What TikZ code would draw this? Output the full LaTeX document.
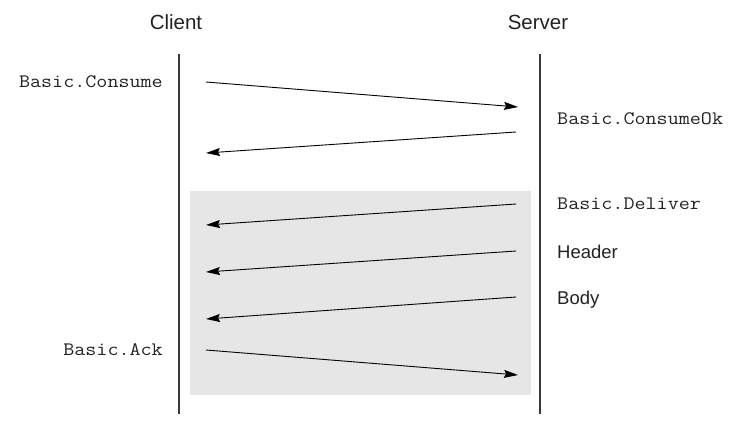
\documentclass[tikz,border=0pt]{standalone}
\usepackage{fontspec}
\setmainfont{Liberation Sans}
\newfontfamily\callfont{Latin Modern Mono}[FakeStretch=1.13]
\usetikzlibrary{arrows.meta}

\definecolor{boxgray}{HTML}{E6E6E7}
\definecolor{linegray}{HTML}{3A3A3A}
\definecolor{textblack}{HTML}{222222}

\tikzset{
  head/.style={text=textblack,font=\fontsize{20.5}{24}\selectfont,inner sep=0pt},
  call/.style={text=textblack,font=\callfont\fontsize{19}{22}\selectfont,inner sep=0pt},
  part/.style={text=textblack,font=\fontsize{18.5}{22}\selectfont,inner sep=0pt},
  lifeline/.style={linegray,line width=1.3pt},
  msg/.style={black,line width=0.9pt,-{Stealth[length=14pt,width=8pt,inset=2pt]}},
}

\begin{document}
\begin{tikzpicture}[x=1pt,y=-1pt]
\useasboundingbox (0,0) rectangle (739,423);

% Hintergrund fuer die Zustellung
\fill[boxgray] (190,191) rectangle (531,395);

% Kopf und Lebenslinien
\node[head] (client) at (176,22) {Client};
\node[head] (server) at (538,22) {Server};
\coordinate (client top) at (179,54);
\coordinate (client bot) at (179,414);
\coordinate (server top) at (540,54);
\coordinate (server bot) at (540,414);
\draw[lifeline] (client top) -- (client bot);
\draw[lifeline] (server top) -- (server bot);

% Nachrichten Client -> Server
\foreach \ya/\yb/\n in {82/107/consume,350/375/ack} {
  \coordinate (\n-s) at (206,\ya);
  \coordinate (\n-e) at (518,\yb);
  \draw[msg] (\n-s) -- (\n-e);
}

% Nachrichten Server -> Client
\foreach \ya/\yb/\n in {132/153/consumeok,204/225/deliver,251/272/header,297/319/body} {
  \coordinate (\n-s) at (516,\ya);
  \coordinate (\n-e) at (206,\yb);
  \draw[msg] (\n-s) -- (\n-e);
}

% Beschriftungen
\node[call,anchor=east] (l-consume) at (163,82) {Basic.Consume};
\node[call,anchor=east] (l-ack) at (163,350) {Basic.Ack};
\node[call,anchor=west] (l-consumeok) at (557,119) {Basic.ConsumeOk};
\node[call,anchor=west] (l-deliver) at (557,204) {Basic.Deliver};
\node[part,anchor=west] (l-header) at (557,252) {Header};
\node[part,anchor=west] (l-body) at (557,300) {Body};

\end{tikzpicture}
\end{document}
